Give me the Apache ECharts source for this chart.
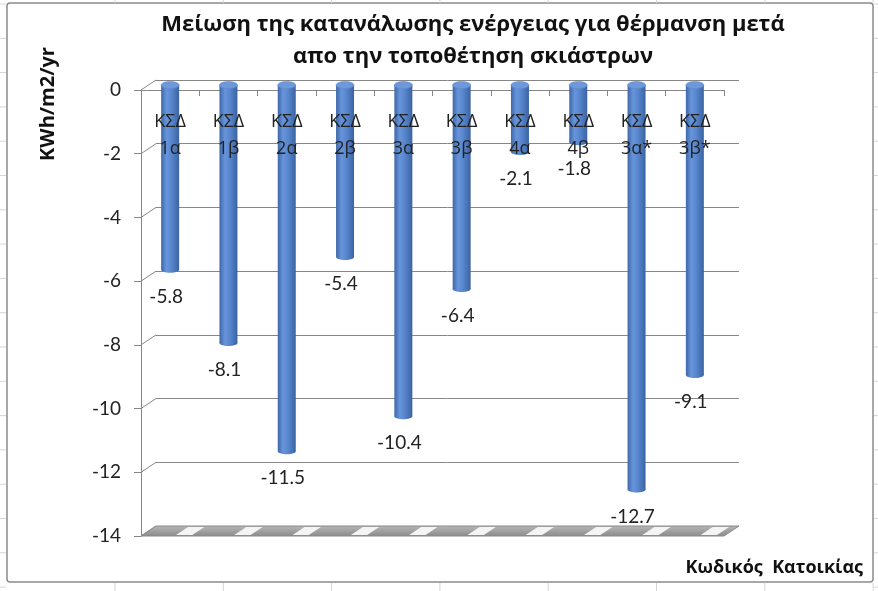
<!DOCTYPE html>
<html><head><meta charset="utf-8">
<script src="https://cdn.jsdelivr.net/npm/echarts@6/dist/echarts.min.js"></script>
<style>html,body{margin:0;padding:0;background:#fff}#c{width:878px;height:591px}</style>
</head><body><div id="c"></div>
<script>
const categories = ['ΚΣΔ\n1α','ΚΣΔ\n1β','ΚΣΔ\n2α','ΚΣΔ\n2β','ΚΣΔ\n3α','ΚΣΔ\n3β','ΚΣΔ\n4α','ΚΣΔ\n4β','ΚΣΔ\n3α*','ΚΣΔ\n3β*'];
const values = [-5.8, -8.1, -11.5, -5.4, -10.4, -6.4, -2.1, -1.8, -12.7, -9.1];
const yTicks = [0, -2, -4, -6, -8, -10, -12, -14];
const titleLines = ['Μείωση της κατανάλωσης ενέργειας για θέρμανση μετά', 'απο την τοποθέτηση σκιάστρων'];
const yTitle = 'KWh/m2/yr';
const xTitle = 'Κωδικός  Κατοικίας';

const FONT = 'Lato, "Open Sans", sans-serif';
const GREEK = '"Open Sans", "Noto Sans", sans-serif';
const AX = '#868686';
const DX = 15, DY = -10;

const chart = echarts.init(document.getElementById('c'), null, {renderer: 'canvas'});

// faint spreadsheet cell lines outside the chart box
const cellLines = [];
for (let x = 115; x < 878; x += 108.3) {
  cellLines.push({type:'line', shape:{x1:x, y1:0, x2:x, y2:3}, style:{stroke:'#d4d4d4', lineWidth:1}, silent:true});
  cellLines.push({type:'line', shape:{x1:x, y1:583, x2:x, y2:591}, style:{stroke:'#d4d4d4', lineWidth:1}, silent:true});
}
for (let y = 4; y < 591; y += 34.3) {
  cellLines.push({type:'line', shape:{x1:0, y1:y, x2:6, y2:y}, style:{stroke:'#d4d4d4', lineWidth:1}, silent:true});
  cellLines.push({type:'line', shape:{x1:874, y1:y, x2:878, y2:y}, style:{stroke:'#d4d4d4', lineWidth:1}, silent:true});
}

const cylGrad = () => new echarts.graphic.LinearGradient(0, 0, 1, 0, [
  {offset: 0, color: '#3d68a8'},
  {offset: 0.3, color: '#6794da'},
  {offset: 0.55, color: '#5a88d0'},
  {offset: 1, color: '#3a63a2'}
]);

const option = {
  backgroundColor: '#fff',
  animation: false,
  graphic: [
    ...cellLines,
    {type:'rect', shape:{x:7, y:3, width:866, height:579, r:3}, style:{fill:'#fff', stroke:'#8a8a8a', lineWidth:1.5}, z:-10, silent:true},
    {type:'text', x:473, y:25, style:{text:titleLines[0], font:'bold 22px ' + GREEK, fill:'#111', align:'center', verticalAlign:'middle'}},
    {type:'text', x:473, y:57, style:{text:titleLines[1], font:'bold 22px ' + GREEK, fill:'#111', align:'center', verticalAlign:'middle'}},
    {type:'text', x:48, y:104, rotation:Math.PI/2, style:{text:yTitle, font:'bold 20px ' + GREEK, fill:'#111', align:'center', verticalAlign:'middle'}},
    {type:'text', x:863, y:568, style:{text:xTitle, font:'bold 18px ' + GREEK, fill:'#111', align:'right', verticalAlign:'middle'}}
  ],
  grid: [
    {left:141, right:154, top:90, bottom:55},
    {left:141 + DX, right:154 - DX, top:90 + DY, bottom:55 - DY},
    {left:141, right:154, top:85, bottom:60}
  ],
  xAxis: [
    {gridIndex:0, type:'category', data:categories, position:'top',
     axisLine:{show:true, lineStyle:{color:AX, width:1}},
     axisTick:{show:true, inside:true, length:6, lineStyle:{color:AX}},
     axisLabel:{show:false}, splitLine:{show:false}},
    {gridIndex:1, type:'category', data:categories, show:false},
    {gridIndex:2, type:'category', data:categories, position:'top', z:10,
     axisLine:{show:false}, axisTick:{show:false},
     axisLabel:{show:true, inside:true, margin:23, fontSize:18, lineHeight:27, color:'#222', fontFamily:GREEK},
     splitLine:{show:false}}
  ],
  yAxis: [
    {gridIndex:0, type:'value', min:-14, max:0, interval:2,
     axisLine:{show:true, lineStyle:{color:AX}},
     axisTick:{show:true, length:7, lineStyle:{color:AX}},
     axisLabel:{margin:20, fontSize:19, color:'#222', fontFamily:FONT},
     splitLine:{show:false}},
    {gridIndex:1, type:'value', min:-14, max:0, interval:2,
     axisLine:{show:false}, axisTick:{show:false}, axisLabel:{show:false},
     splitLine:{show:true, lineStyle:{color:AX, width:1}}},
    {gridIndex:2, type:'value', min:-14, max:0, interval:2, show:false, splitLine:{show:false}}
  ],
  series: [
    { // diagonal connectors from front axis ticks to back wall gridlines
      type:'custom', xAxisIndex:0, yAxisIndex:0, silent:true, z:1,
      data: yTicks.map(v => [0, v]),
      encode:{x:0, y:1},
      renderItem: (params, api) => {
        const cs = params.coordSys;
        const p = api.coord([0, api.value(1)]);
        return {type:'line', shape:{x1:cs.x, y1:p[1], x2:cs.x + DX, y2:p[1] + DY}, style:{stroke:AX, lineWidth:1}};
      }
    },
    { // floor at the axis minimum
      type:'custom', xAxisIndex:0, yAxisIndex:0, silent:true, z:1,
      data: categories.map((c, i) => [i, yTicks[yTicks.length - 1]]),
      encode:{x:0, y:1},
      renderItem: (params, api) => {
        const cs = params.coordSys;
        const c = api.coord([api.value(0), api.value(1)]);
        const w = api.size([1, 0])[0];
        const y = c[1];
        const children = [];
        if (params.dataIndex === 0) {
          children.push({type:'polygon', shape:{points:[[cs.x, y], [cs.x + cs.width, y], [cs.x + cs.width + DX, y + DY], [cs.x + DX, y + DY]]},
            style:{fill:new echarts.graphic.LinearGradient(0,0,0,1,[{offset:0,color:'#b8b8b8'},{offset:1,color:'#8a8a8a'}]), stroke:'#8a8a8a', lineWidth:1}});
        }
        const x0 = c[0] - w / 2;
        const a = x0 + w * 0.6, b = x0 + w * 0.88;
        children.push({type:'polygon', shape:{points:[[a, y - 1], [b, y - 1], [b + DX - 3, y + DY + 1], [a + DX - 3, y + DY + 1]]},
          style:{fill:'#f4f4f4'}});
        return {type:'group', children};
      }
    },
    { // cylinders
      type:'custom', xAxisIndex:2, yAxisIndex:2, z:3,
      data: values.map((v, i) => [i, v]),
      encode:{x:0, y:1},
      renderItem: (params, api) => {
        const i = api.value(0), v = api.value(1);
        const top = api.coord([i, 0]);
        const bot = api.coord([i, v]);
        const r = 9;
        return {type:'group', children:[
          {type:'ellipse', shape:{cx:bot[0], cy:bot[1], rx:r, ry:3}, style:{fill:cylGrad()}},
          {type:'rect', shape:{x:top[0] - r, y:top[1], width:2 * r, height:bot[1] - top[1]}, style:{fill:cylGrad()}},
          {type:'ellipse', shape:{cx:top[0], cy:top[1], rx:r, ry:3.5}, style:{fill:'#6f98d8', stroke:'#5a86cc', lineWidth:0.5}},
          {type:'text', x:bot[0] - 4, y:bot[1] + 27, style:{text:v.toFixed(1), font:'19px ' + FONT, fill:'#222', align:'center', verticalAlign:'middle'}}
        ]};
      }
    }
  ]
};
chart.setOption(option);
</script></body></html>
